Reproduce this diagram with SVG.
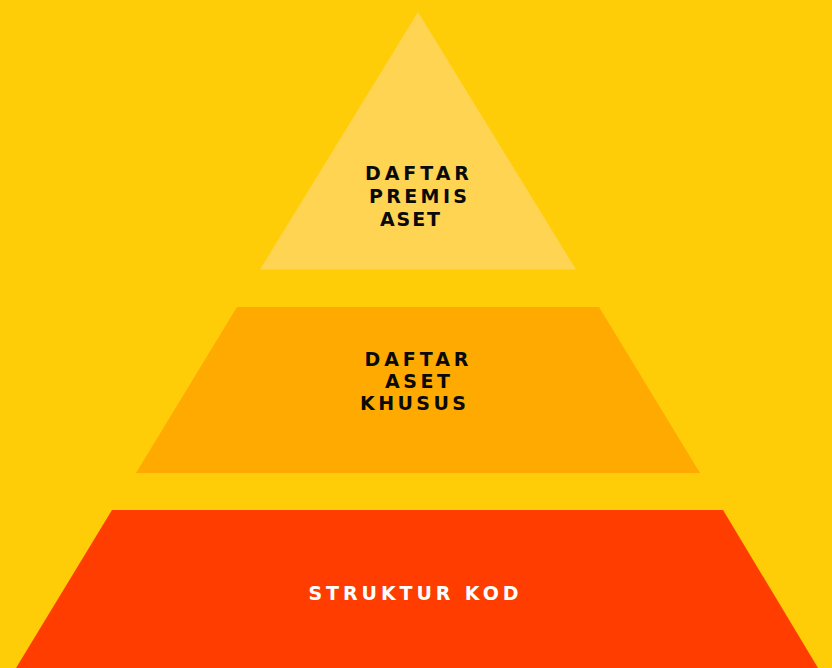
<svg xmlns="http://www.w3.org/2000/svg" width="832" height="668" viewBox="0 0 832 668">
<style>
.t{font-family:"DejaVu Sans","Liberation Sans",Arial,sans-serif;font-weight:bold;font-size:19px;fill:#0a0a0a}
.w{fill:#ffffff}
</style>
<rect width="832" height="668" fill="#FFCC08"/>
<g id="top">
<polygon points="418,12 576,269.5 260,269.5" fill="#FFD452"/>
<text class="t" x="365" y="180" textLength="104" lengthAdjust="spacing">DAFTAR</text>
<text class="t" x="369" y="203" textLength="98" lengthAdjust="spacing">PREMIS</text>
<text class="t" x="380" y="226" textLength="60" lengthAdjust="spacing">ASET</text>
</g>
<g id="middle">
<polygon points="237,307 599,307 700,473 136,473" fill="#FFAA00"/>
<text class="t" x="364.5" y="366" textLength="104" lengthAdjust="spacing">DAFTAR</text>
<text class="t" x="385" y="388" textLength="65" lengthAdjust="spacing">ASET</text>
<text class="t" x="360" y="410" textLength="106" lengthAdjust="spacing">KHUSUS</text>
</g>
<g id="bottom">
<polygon points="112,510 723,510 818,668 16,668" fill="#FF3D00"/>
<text class="t w" x="308.5" y="600" textLength="210" lengthAdjust="spacing">STRUKTUR KOD</text>
</g>
<g id="connectors"/>
</svg>
